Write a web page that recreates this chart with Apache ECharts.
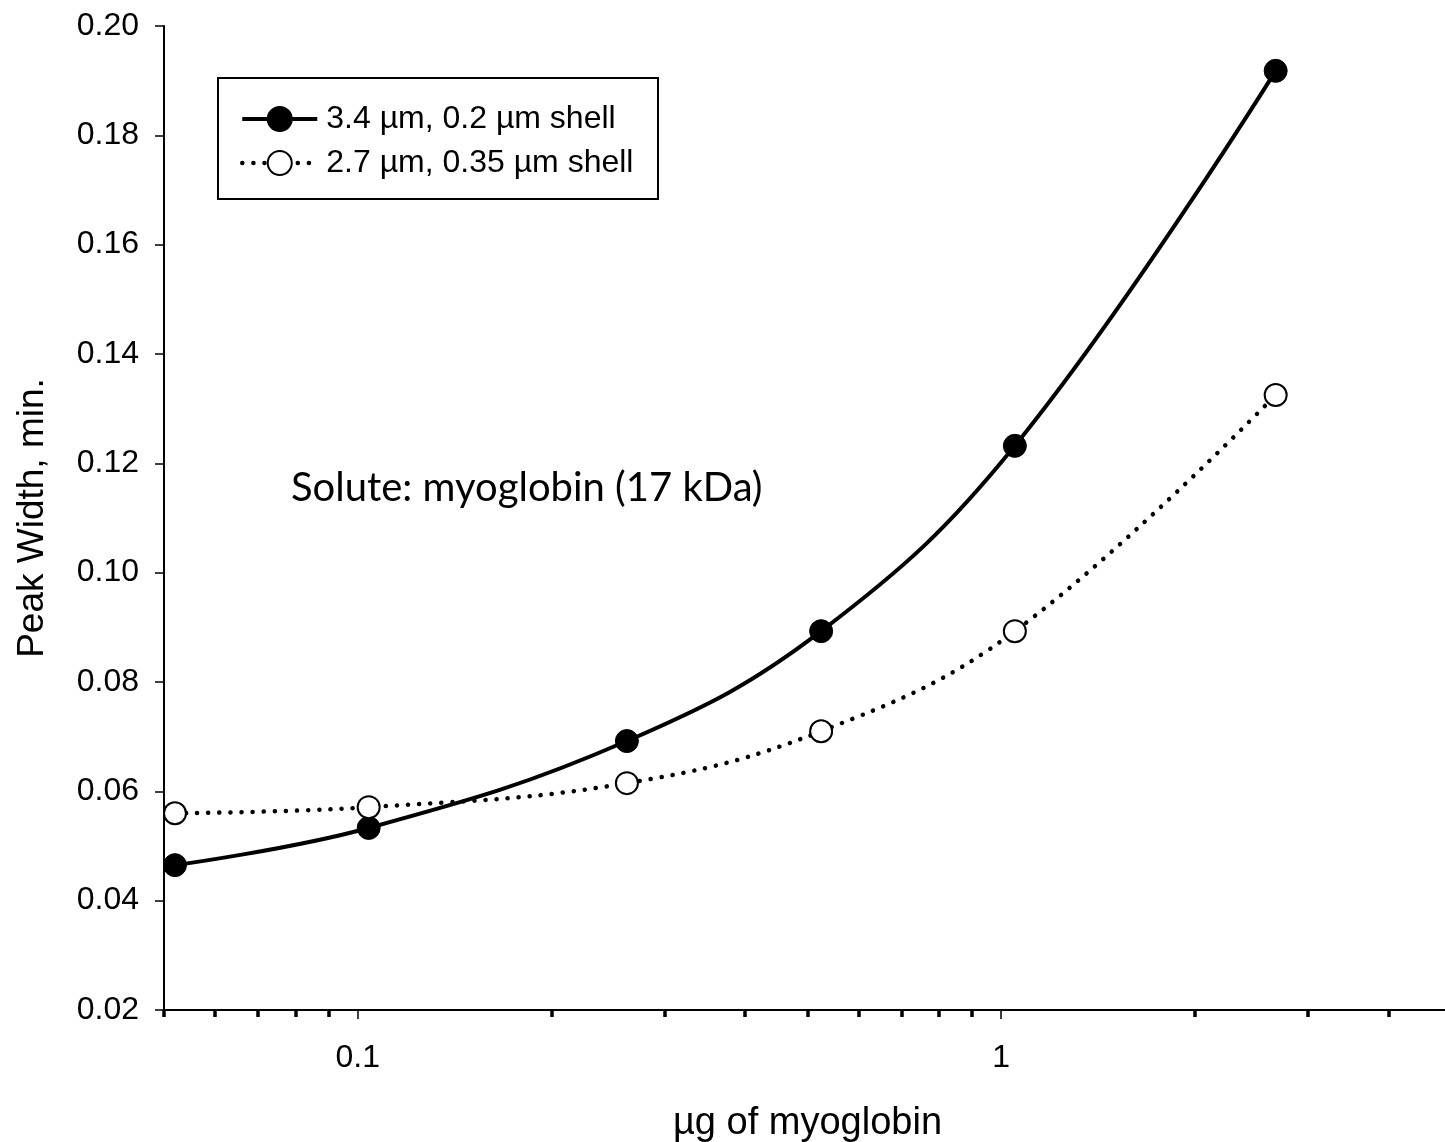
<!DOCTYPE html>
<html>
<head>
<meta charset="utf-8">
<script src="https://cdn.jsdelivr.net/npm/echarts@6/dist/echarts.min.js"></script>
<style>
  html, body { margin: 0; padding: 0; background: #fff; }
  #chart { width: 1445px; height: 1142px; }
</style>
</head>
<body>
<div id="chart"></div>
<script>
// µg of myoglobin (x, log scale)
var xValues = [0.052, 0.104, 0.262, 0.525, 1.05, 2.67];
// peak width, min.
var shell02 = [0.0465, 0.0533, 0.0692, 0.0893, 0.1232, 0.1918];
var shell035 = [0.0560, 0.0571, 0.0615, 0.0710, 0.0893, 0.1325];

var seriesNames = ["3.4 \u00b5m, 0.2 \u00b5m shell", "2.7 \u00b5m, 0.35 \u00b5m shell"];
var xMajorTicks = [0.1, 1];
var xMinorTicks = [0.05, 0.06, 0.07, 0.08, 0.09, 0.2, 0.3, 0.4, 0.5, 0.6, 0.7, 0.8, 0.9, 2, 3, 4, 5];

var font = "'Liberation Sans', Arial, sans-serif";

function pairs(xs, ys) {
  return xs.map(function (x, i) { return [x, ys[i]]; });
}

var solidLine = { color: "#000", width: 4 };
var dotLine = { color: "#000", width: 4.5, type: [0.1, 11], cap: "round" };

var myChart = echarts.init(document.getElementById("chart"));
var option = {
  backgroundColor: "#fff",
  animation: false,
  grid: {
    left: 164,
    top: 26,
    width: 1287,
    height: 984,
    outerBoundsMode: "none",
  },
  legend: {
    orient: "vertical",
    left: 235,
    top: 98,
    itemWidth: 75,
    itemHeight: 30,
    itemGap: 12,
    data: [
      { name: seriesNames[0], lineStyle: solidLine },
      { name: seriesNames[1], lineStyle: dotLine },
    ],
    textStyle: {
      color: "#000",
      fontSize: 32,
      fontFamily: font,
      padding: [0, 0, 0, 4],
    },
  },
  graphic: [
    {
      type: "rect",
      left: 217,
      top: 77,
      z: 1,
      shape: { width: 440, height: 121 },
      style: { fill: "#fff", stroke: "#000", lineWidth: 2 },
    },
    {
      type: "text",
      left: 291,
      top: 468,
      z: 10,
      style: {
        text: "Solute: myoglobin (17 kDa)",
        fill: "#000",
        font: "40px Lato, 'Open Sans', sans-serif",
      },
    },
  ],
  xAxis: [
    {
      type: "log",
      logBase: 10,
      min: 0.05,
      max: 5,
      position: "bottom",
      name: "\u00b5g of myoglobin",
      nameLocation: "middle",
      nameGap: 95,
      nameTextStyle: { color: "#000", fontSize: 38, fontFamily: font },
      axisLine: { lineStyle: { color: "#000", width: 2 } },
      axisTick: {
        customValues: xMajorTicks,
        length: 9,
        lineStyle: { color: "#000", width: 1.5 },
      },
      axisLabel: {
        customValues: xMajorTicks,
        color: "#000",
        fontSize: 32,
        fontFamily: font,
        margin: 32,
      },
      splitLine: { show: false },
      minorTick: { show: false },
    },
    {
      type: "log",
      logBase: 10,
      min: 0.05,
      max: 5,
      position: "bottom",
      offset: 0,
      axisLine: { show: false },
      axisTick: {
        customValues: xMinorTicks,
        length: 7,
        lineStyle: { color: "#000", width: 3.5 },
      },
      axisLabel: { show: false },
      splitLine: { show: false },
    },
  ],
  yAxis: {
    type: "value",
    min: 0.02,
    max: 0.2,
    interval: 0.02,
    name: "Peak Width, min.",
    nameLocation: "middle",
    nameGap: 113,
    nameTextStyle: { color: "#000", fontSize: 37, fontFamily: font },
    axisLine: { show: true, lineStyle: { color: "#000", width: 2 } },
    axisTick: { show: true, length: 9, lineStyle: { color: "#000", width: 1.5 } },
    axisLabel: {
      color: "#000",
      fontSize: 32,
      fontFamily: font,
      margin: 25,
      formatter: function (v) { return v.toFixed(2); },
    },
    splitLine: { show: false },
  },
  series: [
    {
      name: seriesNames[0],
      type: "line",
      xAxisIndex: 0,
      data: pairs(xValues, shell02),
      smooth: 0.4,
      symbol: "circle",
      symbolSize: 23,
      z: 3,
      lineStyle: solidLine,
      itemStyle: { color: "#000", borderColor: "#000", borderWidth: 1 },
    },
    {
      name: seriesNames[1],
      type: "line",
      xAxisIndex: 0,
      data: pairs(xValues, shell035),
      smooth: 0.4,
      symbol: "circle",
      symbolSize: 22,
      z: 4,
      lineStyle: dotLine,
      itemStyle: { color: "#fff", borderColor: "#000", borderWidth: 2 },
    },
  ],
};
myChart.setOption(option);
window.onresize = function () {
  myChart.resize();
};
</script>
</body>
</html>
